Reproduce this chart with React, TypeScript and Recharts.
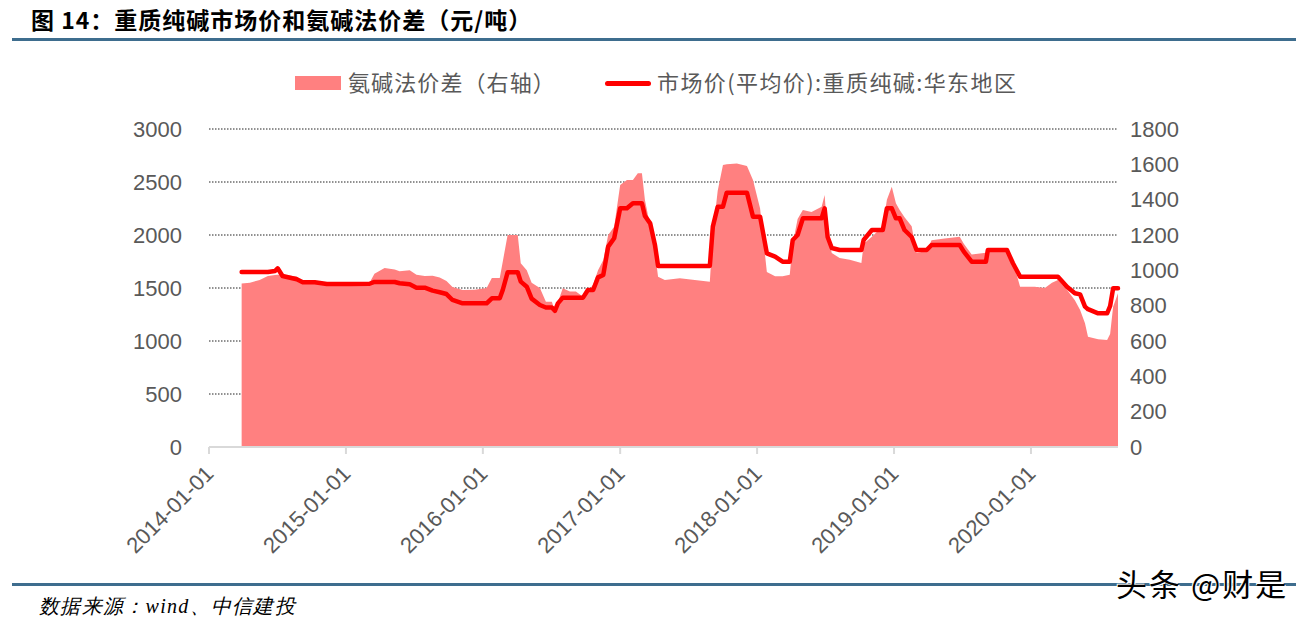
import React from "react";
import {
  ComposedChart,
  Area,
  Line,
  XAxis,
  YAxis,
  CartesianGrid,
} from "recharts";

const dates = [
  "2014-03-29", "2014-04-20", "2014-05-16", "2014-06-07", "2014-06-26", "2014-07-03", "2014-07-16", "2014-08-23",
  "2014-09-08", "2014-10-10", "2014-11-11", "2015-01-11", "2015-03-05", "2015-03-18", "2015-04-14", "2015-05-11",
  "2015-05-24", "2015-06-20", "2015-07-08", "2015-07-30", "2015-08-20", "2015-09-08", "2015-09-26", "2015-10-12",
  "2015-11-08", "2015-12-10", "2016-01-11", "2016-01-25", "2016-02-15", "2016-02-23", "2016-03-07", "2016-04-03",
  "2016-04-11", "2016-04-27", "2016-05-10", "2016-06-01", "2016-06-17", "2016-07-03", "2016-07-11", "2016-07-19",
  "2016-08-01", "2016-08-20", "2016-09-05", "2016-09-24", "2016-10-07", "2016-10-21", "2016-11-03", "2016-11-17",
  "2016-11-30", "2016-12-16", "2017-01-01", "2017-01-19", "2017-02-04", "2017-02-17", "2017-02-28", "2017-03-08",
  "2017-03-22", "2017-04-04", "2017-04-12", "2017-04-30", "2017-06-09", "2017-07-19", "2017-08-28", "2017-09-05",
  "2017-09-18", "2017-10-02", "2017-10-12", "2017-11-08", "2017-12-05", "2017-12-21", "2018-01-09", "2018-01-27",
  "2018-02-18", "2018-03-10", "2018-03-29", "2018-04-06", "2018-04-19", "2018-05-03", "2018-05-26", "2018-06-22",
  "2018-06-30", "2018-07-08", "2018-07-19", "2018-08-09", "2018-09-05", "2018-10-06", "2018-10-12", "2018-11-03",
  "2018-12-02", "2018-12-13", "2018-12-26", "2019-01-06", "2019-01-16", "2019-01-29", "2019-02-17", "2019-03-02",
  "2019-03-29", "2019-04-11", "2019-05-16", "2019-06-25", "2019-07-06", "2019-07-27", "2019-09-03", "2019-09-08",
  "2019-10-29", "2019-11-14", "2019-12-03", "2020-01-11", "2020-02-07", "2020-02-26", "2020-03-13", "2020-04-06",
  "2020-04-27", "2020-05-11", "2020-05-24", "2020-06-01", "2020-06-28", "2020-07-22", "2020-07-30", "2020-08-07",
  "2020-08-20",
];

// 市场价(平均价):重质纯碱:华东地区 (left axis)
const marketPrice = [
  1650, 1650, 1650, 1650, 1660, 1686, 1613, 1582,
  1554, 1554, 1538, 1538, 1540, 1557, 1557, 1557,
  1545, 1535, 1503, 1503, 1475, 1460, 1443, 1387,
  1355, 1355, 1355, 1403, 1403, 1481, 1648, 1648,
  1560, 1512, 1400, 1340, 1316, 1316, 1285, 1355,
  1409, 1409, 1409, 1409, 1481, 1481, 1600, 1623,
  1890, 1969, 2252, 2252, 2299, 2299, 2299, 2180,
  2110, 1900, 1708, 1708, 1708, 1708, 1708, 2079,
  2267, 2267, 2399, 2399, 2399, 2173, 2173, 1827,
  1796, 1748, 1748, 1953, 2000, 2157, 2157, 2157,
  2252, 1981, 1877, 1858, 1858, 1858, 1953, 2047,
  2047, 2252, 2252, 2157, 2157, 2047, 1981, 1858,
  1858, 1906, 1906, 1906, 1843, 1748, 1748, 1858,
  1858, 1733, 1607, 1607, 1607, 1607, 1607, 1512,
  1450, 1440, 1324, 1300, 1261, 1261, 1330, 1497,
  1497,
];

// 氨碱法价差 (right axis)
const spread = [
  926, 930, 945, 968, 973, 975, 975, 965,
  935, 928, 928, 928, 930, 980, 1013, 1005,
  995, 1000, 975, 968, 970, 960, 940, 905,
  889, 890, 900, 956, 956, 1049, 1200, 1200,
  1040, 1000, 930, 900, 822, 822, 766, 820,
  898, 880, 880, 851, 880, 920, 1000, 1058,
  1200, 1247, 1483, 1511, 1511, 1549, 1549, 1398,
  1250, 1100, 964, 945, 955, 945, 935, 1209,
  1450, 1596, 1600, 1605, 1590, 1511, 1350, 990,
  967, 967, 975, 1150, 1290, 1341, 1330, 1360,
  1426, 1200, 1098, 1070, 1060, 1041, 1150, 1190,
  1250, 1400, 1473, 1380, 1341, 1300, 1250, 1098,
  1110, 1170, 1180, 1190, 1150, 1090, 1100, 1126,
  1126, 1050, 907, 907, 900, 930, 945, 890,
  830, 775, 700, 624, 610, 605, 640, 794,
  870,
];

const yearTicks = ["2014-01-01", "2015-01-01", "2016-01-01", "2017-01-01", "2018-01-01", "2019-01-01", "2020-01-01"];
const leftTicks = [0, 500, 1000, 1500, 2000, 2500, 3000];
const rightTicks = [0, 200, 400, 600, 800, 1000, 1200, 1400, 1600, 1800];

const data = dates.map((d, i) => ({
  t: Date.parse(d),
  price: marketPrice[i],
  spread: spread[i],
}));

const AXIS_COLOR = "#595959";
const FONT = "'Liberation Sans', Arial, sans-serif";
const CJK = "'Noto Sans CJK SC', sans-serif";

const fmtDate = (v: number) => {
  const d = new Date(v);
  const y = d.getUTCFullYear();
  const m = String(d.getUTCMonth() + 1).padStart(2, "0");
  const day = String(d.getUTCDate()).padStart(2, "0");
  return `${y}-${m}-${day}`;
};

const XTick = (props: any) => {
  const { x, y, payload } = props;
  const px = x + 6;
  const py = y + 19;
  return (
    <text
      x={px}
      y={py}
      transform={`rotate(-45 ${px} ${py})`}
      textAnchor="end"
      fill={AXIS_COLOR}
      fontSize={22}
      fontFamily={FONT}
    >
      {fmtDate(payload.value)}
    </text>
  );
};

export default function App() {
  return (
    <div
      style={{
        position: "absolute",
        left: 0,
        top: 0,
        width: 1310,
        height: 621,
        background: "#ffffff",
        overflow: "hidden",
      }}
    >
      {/* Title */}
      <div
        style={{
          position: "absolute",
          left: 31,
          top: 5,
          fontFamily: CJK,
          fontWeight: 700,
          fontSize: 23,
          letterSpacing: 1,
          lineHeight: "28px",
          color: "#000",
          whiteSpace: "nowrap",
        }}
      >
        图 14：重质纯碱市场价和氨碱法价差（元/吨）
      </div>
      <div style={{ position: "absolute", left: 12, top: 38, width: 1284, height: 3, background: "#3e6d8e" }} />

      {/* Legend */}
      <div style={{ position: "absolute", left: 295, top: 76, width: 46, height: 14, background: "#ff8080" }} />
      <div
        style={{
          position: "absolute",
          left: 348,
          top: 66,
          fontFamily: CJK,
          fontSize: 22,
          letterSpacing: 1.1,
          lineHeight: "30px",
          color: AXIS_COLOR,
          whiteSpace: "nowrap",
        }}
      >
        氨碱法价差（右轴）
      </div>
      <div style={{ position: "absolute", left: 605, top: 81, width: 46, height: 5, background: "#ff0000", borderRadius: 3 }} />
      <div
        style={{
          position: "absolute",
          left: 657,
          top: 66,
          fontFamily: CJK,
          fontSize: 22,
          letterSpacing: 1.4,
          lineHeight: "30px",
          color: AXIS_COLOR,
          whiteSpace: "nowrap",
        }}
      >
        市场价(平均价):重质纯碱:华东地区
      </div>

      <div style={{ position: "absolute", left: 0, top: 0 }}>
        <ComposedChart
          width={1310}
          height={621}
          data={data}
          margin={{ top: 129, right: 102, bottom: 54, left: 119 }}
        >
          <CartesianGrid
            yAxisId="left"
            vertical={false}
            stroke="#222"
            strokeDasharray="1.5 1.5"
            strokeWidth={1}
          />
          <XAxis
            dataKey="t"
            type="number"
            domain={[Date.parse("2014-01-01"), "dataMax"]}
            ticks={yearTicks.map((s) => Date.parse(s))}
            tick={<XTick />}
            height={120}
            axisLine={{ stroke: "#d9d9d9", strokeWidth: 2 }}
            tickLine={{ stroke: "#d9d9d9", strokeWidth: 2 }}
            tickSize={7}
            tickMargin={2}
            interval={0}
          />
          <YAxis
            yAxisId="left"
            orientation="left"
            domain={[0, 3000]}
            ticks={leftTicks}
            width={90}
            axisLine={false}
            tickLine={false}
            tickSize={0}
            tickMargin={27}
            tick={{ fill: AXIS_COLOR, fontSize: 22, fontFamily: FONT }}
            interval={0}
          />
          <YAxis
            yAxisId="right"
            orientation="right"
            domain={[0, 1800]}
            ticks={rightTicks}
            width={90}
            axisLine={false}
            tickLine={false}
            tickSize={0}
            tickMargin={12}
            tick={{ fill: AXIS_COLOR, fontSize: 22, fontFamily: FONT }}
            interval={0}
          />
          <Area
            yAxisId="right"
            dataKey="spread"
            type="linear"
            fill="#ff8080"
            fillOpacity={1}
            stroke="none"
            isAnimationActive={false}
            dot={false}
            activeDot={false}
          />
          <Line
            yAxisId="left"
            dataKey="price"
            type="linear"
            stroke="#ff0000"
            strokeWidth={4.5}
            strokeLinejoin="round"
            strokeLinecap="round"
            dot={false}
            activeDot={false}
            isAnimationActive={false}
          />
        </ComposedChart>
      </div>

      {/* Bottom rule and source */}
      <div style={{ position: "absolute", left: 12, top: 583, width: 1284, height: 3, background: "#3e6d8e" }} />
      <div
        style={{
          position: "absolute",
          left: 39,
          top: 593,
          fontFamily: "'Liberation Serif', serif",
          fontStyle: "italic",
          fontSize: 20,
          letterSpacing: 1.3,
          lineHeight: "26px",
          color: "#000",
          whiteSpace: "nowrap",
        }}
      >
        数据来源：wind、中信建投
      </div>
      <div
        style={{
          position: "absolute",
          left: 1116,
          top: 565,
          fontFamily: CJK,
          fontSize: 31,
          letterSpacing: 2,
          lineHeight: "36px",
          color: "#000",
          whiteSpace: "nowrap",
          textShadow: "1px 1px 0 #fff, -1px -1px 0 #fff",
        }}
      >
        头条 @财是
      </div>
    </div>
  );
}
